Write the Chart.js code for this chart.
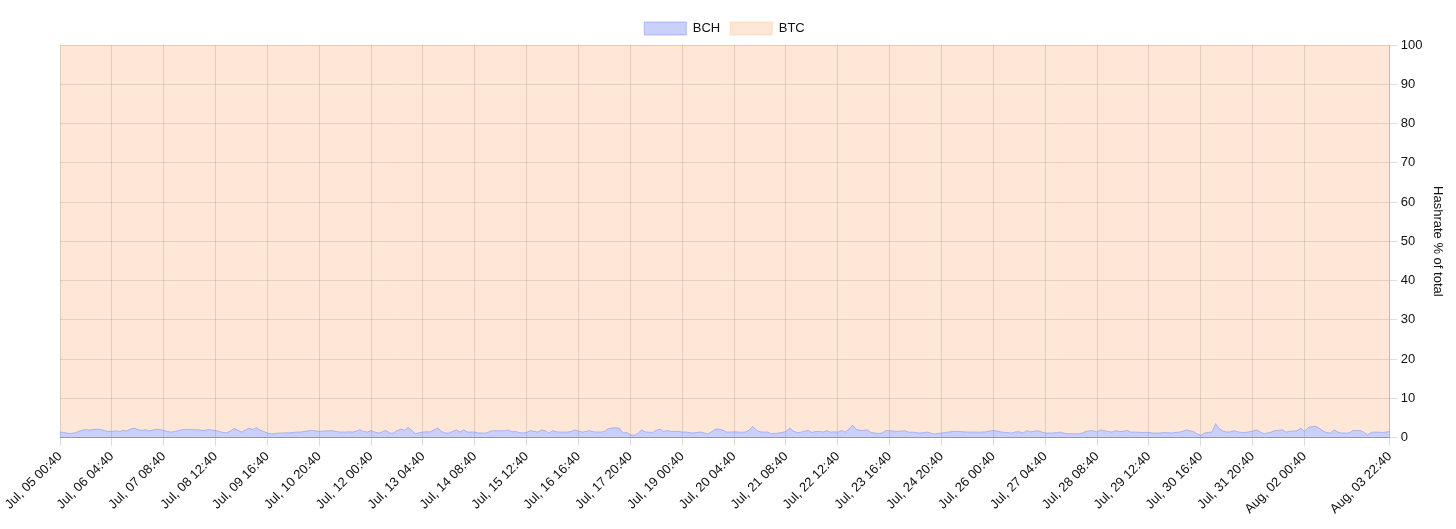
<!DOCTYPE html>
<html>
<head>
<meta charset="utf-8">
<script src="https://cdn.jsdelivr.net/npm/chart.js@4"></script>
<style>
  html, body { margin: 0; padding: 0; background: #fff; }
  #wrap { width: 1456px; height: 529px; }
</style>
</head>
<body>
<div id="wrap"><canvas id="myChart"></canvas></div>
<script>
// BCH share of hashrate (%), one reading every 2 hours, Jul 05 00:40 -> Aug 03 22:40
const bch = [
  1.45, 1.35, 1.15, 1.1, 1.25, 1.6, 1.95, 2.05, 1.95, 2.1, 2.2, 2.1, 1.85, 1.6, 1.6, 1.75, 1.6, 1.85, 1.75, 2.2,
  2.45, 2.1, 1.85, 2.05, 1.75, 1.95, 2.2, 2.05, 1.85, 1.6, 1.45, 1.6, 1.85, 2.05, 2.1, 2.1, 2.05, 2.05, 1.95, 1.85,
  2.1, 1.95, 1.85, 1.6, 1.35, 1.25, 1.7, 2.35, 1.95, 1.45, 1.95, 2.45, 2.1, 2.6, 1.95, 1.6, 1.2, 1.0, 1.05, 1.2,
  1.2, 1.25, 1.25, 1.35, 1.45, 1.45, 1.6, 1.75, 1.85, 1.75, 1.6, 1.7, 1.75, 1.85, 1.7, 1.5, 1.45, 1.45, 1.5, 1.45,
  1.7, 2.05, 1.6, 1.45, 1.85, 1.45, 1.2, 1.5, 1.85,
  1.2, 1.2, 1.8, 2.2, 1.9, 2.6, 1.85, 1.0, 1.3, 1.45, 1.5, 1.5, 2.0, 2.45, 1.6, 1.2, 1.2, 1.6, 2.0, 1.45,
  2.0, 1.45, 1.45, 1.45, 1.2, 1.2, 1.2, 1.6, 1.8, 1.8, 1.8, 1.8, 2.0, 1.5, 1.6, 1.3, 1.2, 1.35, 1.8, 1.6,
  1.45, 2.0, 1.8, 1.2, 1.8, 1.5, 1.45, 1.45, 1.45, 1.6, 2.0, 1.7, 1.45, 1.6, 1.8, 1.5, 1.45, 1.45, 1.6, 2.3,
  2.45, 2.55, 2.45, 1.2, 1.35, 0.75, 0.6, 1.1, 2.0, 1.5, 1.4, 1.35, 1.9, 2.2, 1.6, 1.85, 1.6, 1.6, 1.6, 1.45,
  1.45, 1.3, 1.2, 1.35, 1.45, 1.2, 0.95, 1.6, 2.2, 2.2,
  1.9, 1.45, 1.45, 1.5, 1.45, 1.4, 1.45, 1.9, 2.9, 1.9, 1.5, 1.45, 1.45, 1.0, 1.1, 1.2, 1.35, 1.6, 2.45, 1.7,
  1.3, 1.4, 1.7, 1.85, 1.35, 1.6, 1.6, 1.45, 1.8, 1.45, 1.5, 1.45, 1.85, 1.45, 2.2, 3.2, 2.1, 1.9, 1.9, 2.0,
  1.3, 1.2, 1.1, 1.2, 1.85, 1.8, 1.7, 1.6, 1.7, 1.8, 1.45, 1.4, 1.35, 1.2, 1.25, 1.45, 1.2, 0.95, 1.1, 1.2,
  1.35, 1.45, 1.6, 1.6, 1.6, 1.5, 1.45, 1.45, 1.45, 1.4, 1.45, 1.5, 1.7, 1.85, 1.7, 1.5, 1.35, 1.3, 1.2, 1.5,
  1.5, 1.2, 1.8, 1.5, 1.65, 1.8, 1.5, 1.2, 1.2,
  1.2, 1.3, 1.45, 1.2, 1.0, 1.0, 1.0, 1.0, 1.2, 1.6, 1.8, 1.8, 1.45, 2.0, 1.8, 1.6, 1.45, 1.8, 1.6, 1.6,
  1.9, 1.45, 1.45, 1.4, 1.35, 1.35, 1.35, 1.2, 1.2, 1.2, 1.35, 1.3, 1.2, 1.35, 1.4, 1.6, 2.0, 1.8, 1.6, 1.0,
  0.6, 1.2, 1.35, 1.45, 3.6, 2.3, 1.7, 1.45, 1.5, 1.8, 1.5, 1.35, 1.35, 1.5, 1.7, 2.0, 1.5, 1.0, 1.2, 1.45,
  1.8, 1.9, 2.0, 1.45, 1.6, 1.7, 1.8, 2.45, 1.6, 2.6, 2.8, 2.9, 2.4, 1.7, 1.3, 1.2, 2.0, 1.45, 1.2, 1.2,
  1.2, 1.85, 1.85, 1.85, 1.4, 0.75, 1.35, 1.45, 1.4, 1.35, 1.45, 1.6
];

// the two coins make up the whole, so BTC is the remainder
const btc = bch.map(v => +(100 - v).toFixed(2));

const months = ['Jan','Feb','Mar','Apr','May','Jun','Jul','Aug','Sep','Oct','Nov','Dec'];
const startTime = Date.UTC(2023, 6, 5, 0, 40);
const stepHours = 2;
const labelEvery = 14; // one label each 28 hours

function pad(n) { return n < 10 ? '0' + n : '' + n; }

const labels = [];
for (let i = 0; i < bch.length; i++) {
  const d = new Date(startTime + i * stepHours * 3600 * 1000);
  labels.push(months[d.getUTCMonth()] + ', ' + pad(d.getUTCDate()) + ' ' +
    pad(d.getUTCHours()) + ':' + pad(d.getUTCMinutes()));
}

Chart.defaults.font.family = '"Liberation Sans", Arial, Helvetica, sans-serif';
Chart.defaults.font.size = 13;
Chart.defaults.color = '#111';

const ctx = document.getElementById('myChart').getContext('2d');
const myChart = new Chart(ctx, {
  type: 'line',
  data: {
    labels: labels,
    datasets: [
      {
        label: 'BCH',
        data: bch,
        fill: 'origin',
        backgroundColor: 'rgba(100, 120, 245, 0.35)',
        borderColor: 'rgba(110, 125, 245, 0.45)',
        borderWidth: 1,
        pointRadius: 0,
        tension: 0
      },
      {
        label: 'BTC',
        data: btc,
        fill: '-1',
        backgroundColor: 'rgba(252, 160, 90, 0.25)',
        borderColor: 'rgba(252, 160, 90, 0.3)',
        borderWidth: 1,
        pointRadius: 0,
        tension: 0
      }
    ]
  },
  options: {
    responsive: true,
    maintainAspectRatio: false,
    animation: false,
    layout: { padding: { top: 12, right: 7, left: 0, bottom: 9 } },
    plugins: {
      legend: {
        position: 'top',
        labels: { boxWidth: 42, boxHeight: 13, padding: 10 }
      },
      tooltip: { enabled: false }
    },
    scales: {
      x: {
        grid: { color: 'rgba(0,0,0,0.14)', tickLength: 8 },
        border: { color: 'rgba(0,0,0,0.3)' },
        afterFit: function (scale) {
          // room for the first slanted label
          scale.paddingLeft = Math.max(scale.paddingLeft, 60);
        },
        ticks: {
          autoSkip: false,
          minRotation: 45,
          maxRotation: 45,
          callback: function (value, index) {
            const last = labels.length - 1;
            if ((index % labelEvery === 0 && index < last - labelEvery) || index === last) {
              return labels[index];
            }
            return null;
          }
        }
      },
      y: {
        position: 'right',
        stacked: true,
        min: 0,
        max: 100,
        grid: { color: 'rgba(0,0,0,0.12)', tickLength: 8 },
        border: { color: 'rgba(0,0,0,0.15)' },
        ticks: { stepSize: 10 },
        title: { display: true, text: 'Hashrate % of total' }
      }
    }
  }
});
</script>
</body>
</html>
